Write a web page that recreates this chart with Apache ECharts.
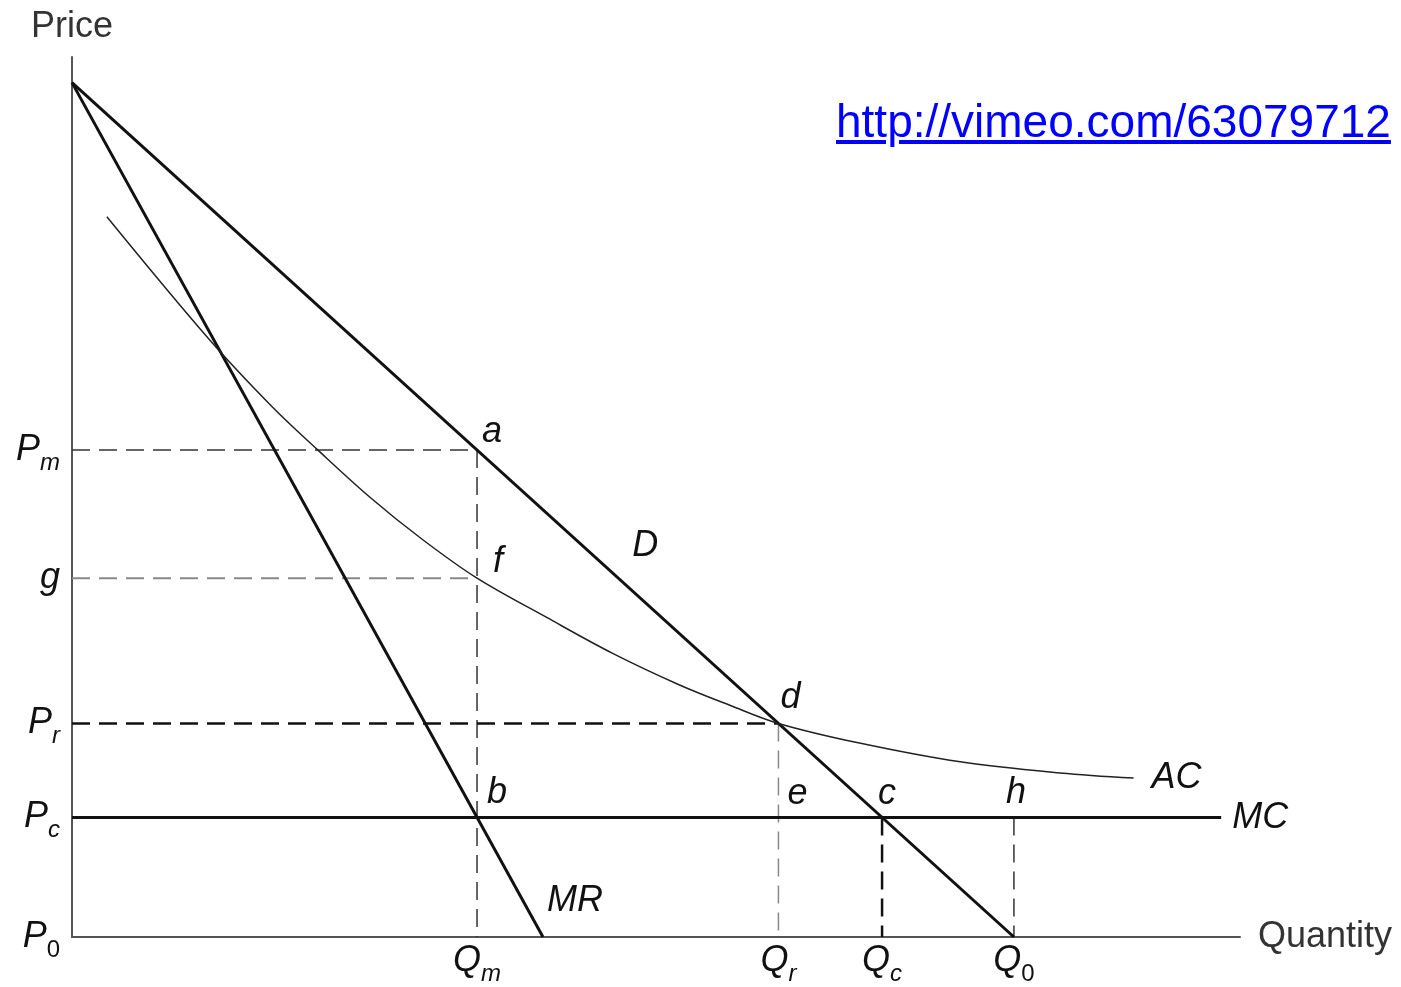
<!DOCTYPE html>
<html>
<head>
    <meta charset="utf-8">
    <title>Monopoly, regulated price and competitive output</title>
    <script src="https://cdn.jsdelivr.net/npm/echarts@6/dist/echarts.min.js"></script>
    <style>
        html, body {margin: 0; padding: 0; background: #fff;}
        #main {width: 1401px; height: 987px;}
        #link {
            position: absolute; left: 836px; top: 98px;
            font: 46px/46px 'Liberation Sans', Arial, sans-serif;
            color: #0000ff; text-decoration: underline;
        }
    </style>
</head>
<body>
<div id="main"></div>
<a id="link" href="http://vimeo.com/63079712">http://vimeo.com/63079712</a>

<script>
    // straight curves, given by their end points [quantity, price]
    var demand = [[0, 100], [100, 0]];
    var marginalRevenue = [[0, 100], [50, 0]];
    var marginalCost = [[0, 14], [122, 14]];

    // average cost
    var acQ = [3.7, 14.6, 21.3, 26, 31.6, 37, 43, 50.4, 57.4, 64.5, 69.9, 75, 83.6, 94.3, 104.9, 112.7];
    var acP = [84.3, 69.9, 62, 57.1, 51.5, 46.7, 42, 37.4, 33.2, 29.5, 27.1, 25, 22.7, 20.5, 19.2, 18.6];

    // levels marked on the axes
    var priceTicks = [57, 42, 25, 14, 0];
    var priceTickLabels = [['P', 'm'], ['g', ''], ['P', 'r'], ['P', 'c'], ['P', '0']];
    var quantityTicks = [43, 75, 86, 100];
    var quantityTickLabels = [['Q', 'm'], ['Q', 'r'], ['Q', 'c'], ['Q', '0']];

    // lettered points
    var pointNames = ['a', 'f', 'd', 'b', 'e', 'c', 'h'];
    var pointQ = [43, 43, 75, 43, 75, 86, 100];
    var pointP = [57, 42, 25, 14, 14, 14, 14];

    var FONT = "'Liberation Sans', Arial, sans-serif";

    var rich = {
        b: {fontSize: 36, fontStyle: 'italic', fontFamily: FONT, color: '#111', lineHeight: 36},
        s: {fontSize: 24, fontStyle: 'italic', fontFamily: FONT, color: '#111', lineHeight: 24, padding: [26, 0, 0, 0]},
        n: {fontSize: 24, fontFamily: FONT, color: '#111', lineHeight: 24, padding: [26, 0, 0, 0]}
    };

    function tickText(pair) {
        if (!pair) return '';
        var t = '{b|' + pair[0] + '}';
        if (pair[1] === '0') t += '{n|0}';
        else if (pair[1]) t += '{s|' + pair[1] + '}';
        return t;
    }

    // label offsets in pixels, from the point they belong to
    var offsets = {
        a: [15, -18], f: [21, -16], d: [12, -25], b: [20, -24],
        e: [19, -23], c: [5, -23], h: [2, -24]
    };

    var letterData = pointNames.map(function (n, i) {
        return {value: [pointQ[i], pointP[i]], label: {formatter: n, offset: offsets[n]}};
    });
    // curve names
    var last = acQ.length - 1;
    letterData.push({value: [60, 40], label: {formatter: 'D', offset: [8, -49]}});
    letterData.push({value: marginalRevenue[1], label: {formatter: 'MR', offset: [32, -36]}});
    letterData.push({value: [acQ[last], acP[last]], label: {formatter: 'AC', offset: [43, 0]}});
    letterData.push({value: marginalCost[1], label: {formatter: 'MC', offset: [39, 1]}});

    var acData = acQ.map(function (q, i) { return [q, acP[i]]; });

    function solid(data, width, color) {
        return {
            type: 'line', data: data, symbol: 'none', silent: true,
            lineStyle: {color: color, width: width}
        };
    }

    function dashed(data, width, color, dash) {
        return {
            type: 'line', data: data, symbol: 'none', silent: true,
            lineStyle: {color: color, width: width, type: dash}
        };
    }

    var Pm = priceTicks[0], g = priceTicks[1], Pr = priceTicks[2], Pc = priceTicks[3];
    var Qm = quantityTicks[0], Qr = quantityTicks[1], Qc = quantityTicks[2], Q0 = quantityTicks[3];

    var chart = echarts.init(document.getElementById('main'));
    chart.setOption({
        animation: false,
        grid: {left: 72, right: 161, top: 57, bottom: 50},
        xAxis: {
            type: 'value', min: 0, max: 124,
            name: 'Quantity', nameLocation: 'end', nameGap: 18,
            nameTextStyle: {fontSize: 36, color: '#333', fontFamily: FONT},
            axisLine: {show: true, lineStyle: {color: '#555', width: 2}},
            axisTick: {show: false},
            splitLine: {show: false},
            axisLabel: {
                customValues: quantityTicks, margin: 6, rich: rich,
                formatter: function (v) { return tickText(quantityTickLabels[quantityTicks.indexOf(v)]); }
            }
        },
        yAxis: {
            type: 'value', min: 0, max: 103,
            name: 'Price', nameLocation: 'end', nameGap: 12,
            nameTextStyle: {fontSize: 36, color: '#333', fontFamily: FONT, align: 'center'},
            axisLine: {show: true, lineStyle: {color: '#555', width: 2}},
            axisTick: {show: false},
            splitLine: {show: false},
            axisLabel: {
                customValues: priceTicks, margin: 12, rich: rich,
                formatter: function (v) { return tickText(priceTickLabels[priceTicks.indexOf(v)]); }
            }
        },
        series: [
            dashed([[0, Pm], [Qm, Pm], [Qm, 0]], 1.5, '#333', [18, 9]),
            dashed([[0, g], [Qm, g]], 2, '#888', [18, 9]),
            dashed([[0, Pr], [Qr, Pr]], 2.5, '#111', [18, 9]),
            dashed([[Qr, Pr], [Qr, 0]], 1.5, '#888', [18, 9]),
            dashed([[Qc, Pc], [Qc, 0]], 2.5, '#111', [18, 9]),
            dashed([[Q0, Pc], [Q0, 0]], 1.5, '#333', [18, 9]),
            solid(demand, 3, '#111'),
            solid(marginalRevenue, 3, '#111'),
            solid(marginalCost, 3, '#111'),
            {
                type: 'line', data: acData, symbol: 'none', silent: true,
                smooth: 0.35,
                lineStyle: {color: '#222', width: 1.5}
            },
            {
                type: 'scatter', data: letterData, symbolSize: 1, clip: false, silent: true,
                itemStyle: {color: 'rgba(0,0,0,0)'},
                label: {
                    show: true, position: 'inside', opacity: 1, textBorderWidth: 0,
                    fontSize: 36, fontStyle: 'italic', fontFamily: FONT, color: '#111'
                }
            }
        ]
    });
</script>
</body>
</html>
